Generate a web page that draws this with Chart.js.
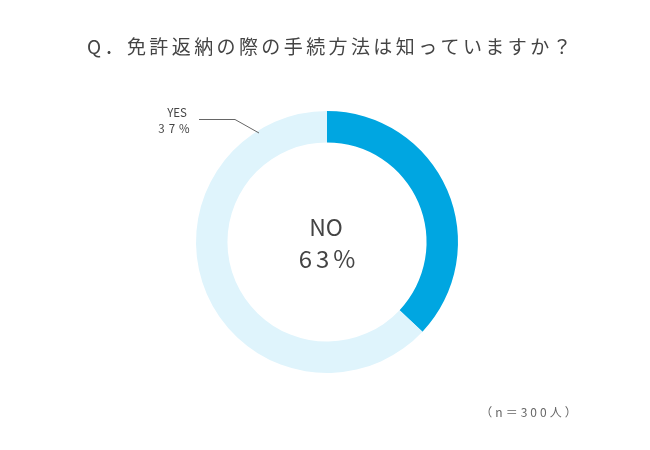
<!DOCTYPE html>
<html><head><meta charset="utf-8">
<script src="https://cdn.jsdelivr.net/npm/chart.js@4/dist/chart.umd.min.js"></script>
<style>html,body{margin:0;padding:0;background:#fff;}#wrap{width:650px;height:450px;position:relative;}</style>
</head><body><div id="wrap"><canvas id="c" width="650" height="450"></canvas></div>
<script>
const categories = ["YES", "NO"];
const values = [37, 63];
const colors = ["#00A6E1", "#DFF4FC"];
const titleText = "Q．免許返納の際の手続方法は知っていますか？";
const noteText = "（n＝300人）";

const FONT = '"Noto Sans CJK JP", "Noto Sans", sans-serif';

const textPlugin = {
  id: 'texts',
  afterDraw(chart) {
    const ctx = chart.ctx;
    const meta = chart.getDatasetMeta(0);
    const arc = meta.data[0];
    const cx = arc.x, cy = arc.y;
    ctx.save();
    ctx.fillStyle = '#444';
    ctx.textBaseline = 'middle';
    // title
    ctx.font = '19px ' + FONT;
    ctx.letterSpacing = '3.4px';
    ctx.textAlign = 'center';
    ctx.fillText(titleText, 331, 47);
    // center label (NO)
    ctx.letterSpacing = '0px';
    ctx.font = '23px ' + FONT;
    ctx.fillText(categories[1], cx - 1, cy - 15);
    ctx.letterSpacing = '4px';
    ctx.font = '24px ' + FONT;
    ctx.fillText(values[1] + '%', cx + 2, cy + 17);
    // YES label
    ctx.font = '11.5px ' + FONT;
    ctx.letterSpacing = '0px';
    ctx.fillText(categories[0], 177, 113);
    ctx.letterSpacing = '4px';
    ctx.fillText(values[0] + '%', 176, 129);
    // leader line
    ctx.strokeStyle = '#666';
    ctx.lineWidth = 1;
    ctx.beginPath();
    ctx.moveTo(199, 119.5);
    ctx.lineTo(235, 119.5);
    ctx.lineTo(259, 133);
    ctx.stroke();
    // note
    ctx.fillStyle = '#666';
    ctx.font = '12px ' + FONT;
    ctx.letterSpacing = '3px';
    ctx.fillText(noteText, 530, 412);
    ctx.restore();
  }
};

new Chart(document.getElementById('c'), {
  type: 'doughnut',
  data: {
    labels: categories,
    datasets: [{ data: values, backgroundColor: colors, borderWidth: 0, hoverOffset: 0 }]
  },
  options: {
    responsive: false,
    animation: false,
    cutout: '76%',
    layout: { padding: { top: 111, bottom: 77, left: 196, right: 192 } },
    plugins: { legend: { display: false }, tooltip: { enabled: false }, title: { display: false } },
    events: []
  },
  plugins: [textPlugin]
});
</script></body></html>
